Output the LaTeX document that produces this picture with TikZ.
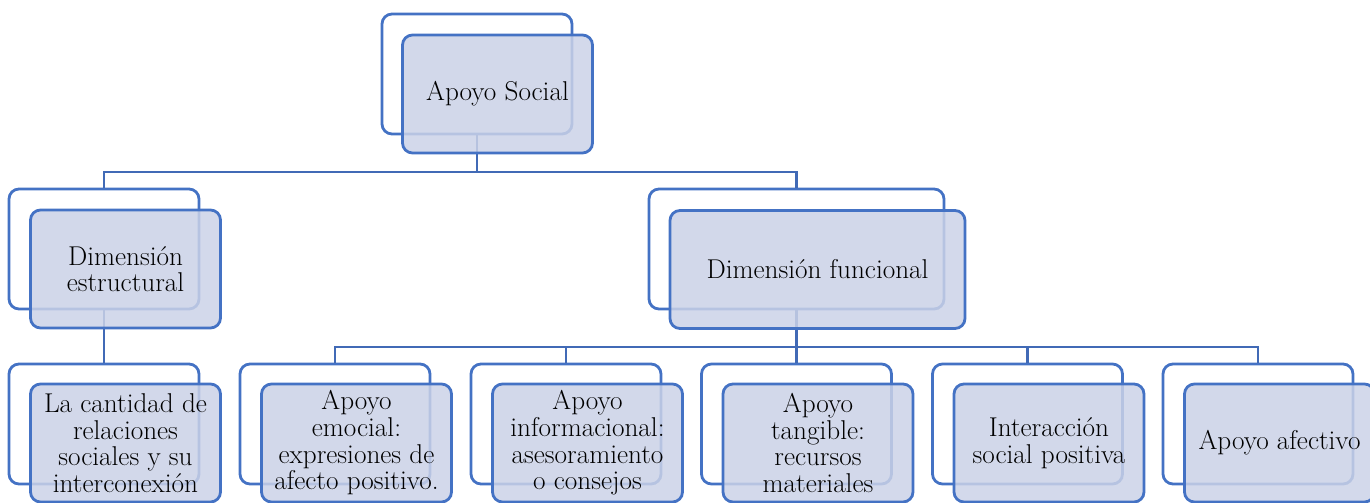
\documentclass[tikz,border=0pt]{standalone}
\usepackage{fontspec}
\definecolor{boxline}{RGB}{68,114,196}
\definecolor{connline}{RGB}{65,106,182}
\definecolor{boxfill}{RGB}{203,210,231}
\begin{document}
\begin{tikzpicture}[x=0.75pt,y=-0.75pt,
  backbox/.style={draw=boxline, line width=2.1pt, fill=white, rounded corners=7.5pt,
    minimum width=142.5pt, minimum height=90pt, inner sep=0pt},
  frontbox/.style={draw=boxline, line width=2.1pt, fill=boxfill, fill opacity=0.85,
    text opacity=1, rounded corners=7.5pt, minimum width=142.5pt, minimum height=88.5pt,
    inner sep=0pt, align=center, font=\fontsize{20.4}{20}\selectfont},
  wide/.style={minimum width=221.25pt},
  conn/.style={draw=connline, line width=1.9pt}]
\useasboundingbox (0,0) rectangle (1370,503);

% rear outlines
\node[backbox] (socB) at (477,74) {};
\node[backbox] (estB) at (104,249) {};
\node[backbox, wide] (funB) at (796.5,249) {};
\node[backbox] (canB) at (104,424) {};
\node[backbox] (emoB) at (335,424) {};
\node[backbox] (infB) at (566,424) {};
\node[backbox] (tanB) at (796.5,424) {};
\node[backbox] (intB) at (1027.5,424) {};
\node[backbox] (afeB) at (1258,424) {};

% bus levels
\coordinate (busA) at (0,172);
\coordinate (busB) at (0,347);

% connectors
\draw[conn] (socB.south) -- (socB.south |- busA) -| (estB.north);
\draw[conn] (socB.south |- busA) -| (funB.north);
\draw[conn] (estB.south) -- (canB.north);
\draw[conn] (funB.south) -- (funB.south |- busB) -| (emoB.north);
\draw[conn] (funB.south |- busB) -| (infB.north);
\draw[conn] (funB.south |- busB) -- (tanB.north);
\draw[conn] (funB.south |- busB) -| (intB.north);
\draw[conn] (funB.south |- busB) -| (afeB.north);

% front boxes with text
\node[frontbox] (soc) at (497.5,94) {Apoyo Social};
\node[frontbox] (est) at (125.5,269) {Dimensión\\estructural};
\node[frontbox, wide] (fun) at (817.5,269.5) {Dimensión funcional};
\node[frontbox] (can) at (125.5,443) {La cantidad de\\relaciones\\sociales y su\\interconexión};
\node[frontbox] (emo) at (356.5,443) {Apoyo\\emocial:\\expresiones de\\afecto positivo.};
\node[frontbox] (inf) at (587.5,443) {Apoyo\\informacional:\\asesoramiento\\o consejos};
\node[frontbox] (tan) at (818,443) {Apoyo\\tangible:\\recursos\\materiales};
\node[frontbox] (int) at (1049,443) {Interacción\\social positiva};
\node[frontbox] (afe) at (1279.5,443) {Apoyo afectivo};
\end{tikzpicture}
\end{document}
